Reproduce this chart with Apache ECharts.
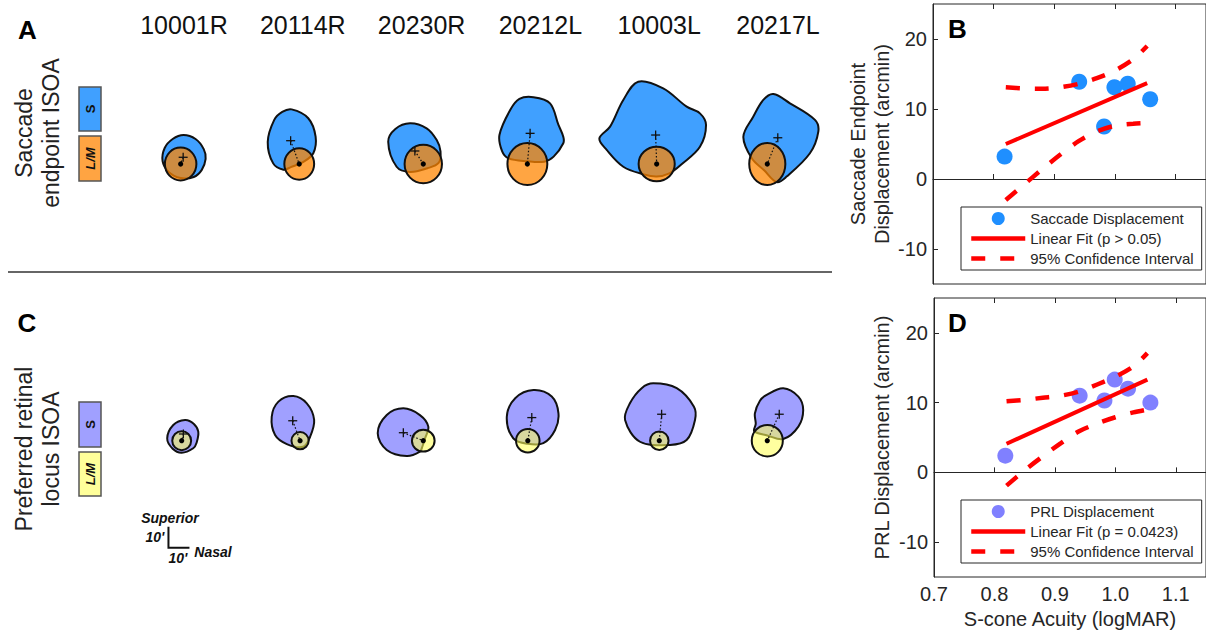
<!DOCTYPE html>
<html><head><meta charset="utf-8">
<script src="https://cdn.jsdelivr.net/npm/echarts@6/dist/echarts.min.js"></script>
<style>html,body{margin:0;padding:0;background:#fff}#c{width:1206px;height:634px}</style>
</head><body><div id="c"></div>
<script>
// ---------- data ----------
const subjects = ['10001R', '20114R', '20230R', '20212L', '10003L', '20217L'];

// Saccade endpoint ISOA (arcmin, x = nasal, y = superior), relative to L/M centroid
const saccadeLMx = [-1.6, -1.7, 0.8, -6.2, -1.2, -5.1];
const saccadeLMr = [[7.5, 7.8], [7.1, 7.5], [8.9, 9.2], [9.5, 10], [8.6, 8.2], [8.6, 10]];
const saccadeSCentroid = [[1.2, 3.2], [-4.1, 11.1], [-4, 6.2], [1.3, 14.6], [-0.5, 13.8], [5, 12.5]];
const saccadeSOutline = [
  [[1.4, 13.8], [7.1, 11.9], [11, 7.1], [11.9, 2.4], [10, -2.9], [6.2, -6.2], [0, -6.7], [-5.7, -3.8], [-8.6, 1.4], [-7.6, 7.6], [-3.8, 11.9]],
  [[-3.6, 26], [4.3, 21.8], [7.8, 13], [6.7, 5.1], [2, 1], [-4, -1.5], [-7.5, -2.7], [-12.4, 0.3], [-15, 10.5], [-11.9, 21], [-8.1, 24.8]],
  [[-6.3, 19.4], [1.6, 17], [6.4, 11.4], [8.2, 6], [7.3, 0.5], [2, -2], [-6.3, -3.8], [-12.7, -1.3], [-16.7, 10.6], [-13.3, 16.7]],
  [[2.9, 31.8], [10.8, 28.9], [14.8, 18.6], [17.1, 13], [17.1, 9.9], [12.5, 3.5], [8, 1.1], [0, 1.3], [-9, 2.7], [-12, 6], [-13.3, 13.8], [-8.2, 25.7], [-3.8, 31]],
  [[-8.8, 39.2], [3.1, 36], [14.3, 27.3], [20.6, 24.1], [23.5, 18.6], [20.6, 8.2], [12, 0], [6, -4.5], [0, -6], [-6, -5], [-15.9, -1.3], [-23.8, 6.7], [-27.3, 12.2], [-22.2, 17.8], [-15.9, 30.5]],
  [[2.9, 33.3], [10.8, 28.9], [22.7, 21], [24.3, 15.4], [20.3, 5.1], [9.2, -6], [4.5, -8.6], [-1.5, -3], [-7.4, 2.7], [-11.4, 13], [-6.7, 22.5], [-1.9, 30.5]]
];

// Preferred retinal locus ISOA
const prlLMx = [-1.1, -1.3, 0.8, -6.0, 0.05, -5.1];
const prlLMr = [[4.5, 4.5], [4.1, 4.1], [5.4, 5.2], [5.6, 5.6], [4.4, 4.4], [7.4, 7.5]];
const prlSCentroid = [[0.8, 3.2], [-3.5, 9.5], [-9.5, 3.8], [1.9, 11], [1.1, 12.6], [5.7, 12.6]];
const prlSOutline = [
  [[1.6, 9.9], [5.7, 8.1], [7.9, 4.3], [7.1, -1], [5.5, -3.6], [0, -5.7], [-4.3, -3.8], [-6.9, 1.1], [-4, 7.5]],
  [[-3.2, 21.3], [3.2, 17.8], [6.7, 9.9], [4.8, 1.9], [1.4, -2.9], [-6.3, -1.6], [-11.9, 2.7], [-13.5, 11.4], [-10.3, 18.6]],
  [[-9.5, 15.4], [-1.6, 12.2], [2.4, 6.7], [0.8, 1], [-0.5, -3], [-1.6, -5.2], [-7.9, -7.3], [-17.4, -4.4], [-21.7, 3.5], [-17.4, 12.2]],
  [[2.7, 24.1], [11.4, 21], [14.6, 13], [13, 5.1], [7.4, -1.2], [0, -1.5], [-6.9, 1.1], [-10, 11.4], [-6, 20.2]],
  [[-2.9, 27.3], [8.3, 25], [16.5, 16.2], [17, 9.9], [13, 0.3], [5.1, -2], [-9.2, -0.5], [-16.3, 9.9], [-14, 17.8], [-8.4, 25]],
  [[7.6, 25], [14.8, 21], [17.1, 14.6], [14.8, 6.7], [7.6, 0.8], [0, 2.5], [-6.2, 4.5], [-5.5, 8], [-5.9, 13], [-3.5, 19], [-0.3, 21.8]]
];

// scale bar (arcmin, relative to first column)
const scaleBarCorner = [-7.4, -51];
const scaleBarLen = 10;

// Panels B / D
const acuity = [0.818, 0.941, 0.982, 0.999, 1.021, 1.058];
const saccadeDisp = [3.2, 13.9, 7.5, 13.1, 13.6, 11.4];
const prlDisp = [2.4, 11.0, 10.3, 13.3, 12.0, 10.0];
const fitX = [0.82, 1.053];
const saccadeFit = [5.0, 13.7];
const prlFit = [4.1, 13.3];
const ciX = [0.82, 0.85, 0.88, 0.91, 0.94, 0.97, 1.0, 1.03, 1.053];
const saccadeCIUpper = [13.1, 12.95, 12.9, 13.1, 13.6, 14.4, 15.5, 17.1, 19.0];
const saccadeCILower = [-3.0, -0.8, 1.4, 3.5, 5.4, 6.8, 7.6, 7.9, 8.0];
const prlCIUpper = [10.2, 10.4, 10.7, 11.0, 11.6, 12.6, 13.7, 15.2, 17.1];
const prlCILower = [-1.9, 0.3, 2.3, 4.2, 5.9, 7.0, 7.9, 8.6, 9.0];
const yTicks = [-10, 0, 10, 20];
const xTicks = [0.7, 0.8, 0.9, 1.0, 1.1];

// ---------- chart ----------
const FONT = "'Liberation Sans', Arial, sans-serif";
const INK = '#262626';
const chart = echarts.init(document.getElementById('c'), null, {renderer: 'svg'});
const zip = (xs, ys) => xs.map((x, i) => [x, ys[i]]);

function shapeRenderer(lmX, lmR, outlines, centroids, sColor, lmColor) {
  return function (params, api) {
    const i = api.value(0);
    const c = api.coord([i, 0]);
    const k = api.size([0, 1])[1];
    const cx = c[0] + lmX[i] * k, cy = c[1];
    const P = p => [cx + p[0] * k, cy - p[1] * k];
    const cen = P(centroids[i]);
    const d = 4.5;
    return {
      type: 'group', children: [
        {type: 'polygon', shape: {points: outlines[i].map(P), smooth: 0.35}, style: {fill: sColor, stroke: '#111', lineWidth: 2}},
        {type: 'ellipse', shape: {cx: cx, cy: cy, rx: lmR[i][0] * k, ry: lmR[i][1] * k}, style: {fill: lmColor, stroke: '#111', lineWidth: 2}},
        {type: 'line', shape: {x1: cen[0], y1: cen[1], x2: cx, y2: cy}, style: {stroke: '#111', lineWidth: 1.2, lineDash: [1.5, 2]}},
        {type: 'line', shape: {x1: cen[0] - d, y1: cen[1], x2: cen[0] + d, y2: cen[1]}, style: {stroke: '#111', lineWidth: 1.3}},
        {type: 'line', shape: {x1: cen[0], y1: cen[1] - d, x2: cen[0], y2: cen[1] + d}, style: {stroke: '#111', lineWidth: 1.3}},
        {type: 'circle', shape: {cx: cx, cy: cy, r: 2.6}, style: {fill: '#000'}}
      ]
    };
  };
}

function scaleBarRenderer(params, api) {
  const c = api.coord([0, scaleBarCorner[1]]);
  const k = api.size([0, 1])[1];
  const x0 = c[0] + scaleBarCorner[0] * k, y0 = c[1];
  const L = scaleBarLen * k;
  const tf = 'italic bold 14px ' + FONT;
  const t = (x, y, s) => ({type: 'text', x: x, y: y, style: {text: s, font: tf, fill: '#111', align: 'center', verticalAlign: 'middle'}});
  return {
    type: 'group', children: [
      {type: 'polyline', shape: {points: [[x0, y0 - L], [x0, y0], [x0 + L, y0]]}, style: {stroke: '#111', lineWidth: 2, fill: null}},
      t(x0 + 1.5, y0 - L - 9, 'Superior'),
      t(x0 - 13.5, y0 - 11, "10'"),
      t(x0 + 9.5, y0 + 10, "10'"),
      t(x0 + 44.5, y0 + 4, 'Nasal')
    ]
  };
}

const valueXAxis = (grid, pos, labels, name) => ({
  type: 'value', gridIndex: grid, position: pos, min: 0.7, max: 1.15,
  axisLine: {show: pos === 'bottom', lineStyle: {color: INK, width: 1}},
  axisTick: {show: true, inside: true, length: 5, customValues: xTicks, lineStyle: {color: INK}},
  axisLabel: {show: labels, customValues: xTicks, formatter: v => v.toFixed(1), fontSize: 20, color: INK, fontFamily: FONT, margin: 7},
  splitLine: {show: false},
  name: name || '', nameLocation: 'middle', nameGap: 32,
  nameTextStyle: {fontSize: 20, color: INK, fontFamily: FONT}
});
const valueYAxis = (grid, name, gap) => ({
  type: 'value', gridIndex: grid, min: -15, max: 25,
  axisLine: {show: true, lineStyle: {color: INK, width: 1}},
  axisTick: {show: true, inside: true, length: 5, customValues: yTicks, lineStyle: {color: INK}},
  axisLabel: {customValues: yTicks, fontSize: 20, color: INK, fontFamily: FONT, margin: 6},
  splitLine: {show: false},
  name: name, nameLocation: 'middle', nameGap: gap, nameRotate: 90,
  nameTextStyle: {fontSize: 20, lineHeight: 24, color: INK, fontFamily: FONT}
});

const lineSeries = (name, xi, yi, data, dashed) => ({
  type: 'line', name: name, xAxisIndex: xi, yAxisIndex: yi, data: data, smooth: dashed ? 0.3 : false,
  symbol: 'none', showSymbol: false, silent: true,
  lineStyle: {color: '#ff0000', width: dashed ? 4.5 : 4, type: dashed ? [14, 15] : 'solid', cap: 'butt'},
  itemStyle: {color: '#ff0000'}
});

const legendBase = (top, names) => ({
  data: [
    {name: names[0], icon: 'circle', itemStyle: {opacity: 1}},
    {name: names[1], itemStyle: {opacity: 0}},
    {name: names[2], itemStyle: {opacity: 0}}
  ],
  orient: 'vertical', left: 961, top: top, padding: [4, 8, 4, 8], itemGap: 5,
  itemWidth: 54, itemHeight: 13, borderColor: INK, borderWidth: 1, backgroundColor: '#fff',
  lineStyle: {width: 4.5},
  selectedMode: false, textStyle: {fontSize: 15, color: INK, fontFamily: FONT}
});

const boxes = [
  {y: 87, h: 44, fill: '#40a0ff', text: 'S', font: 'bold 13px ' + FONT},
  {y: 136, h: 45, fill: '#ffa442', text: 'L/M', font: 'italic bold 13px ' + FONT},
  {y: 402, h: 45, fill: '#a0a0ff', text: 'S', font: 'bold 13px ' + FONT},
  {y: 452, h: 44, fill: '#ffff9a', text: 'L/M', font: 'italic bold 13px ' + FONT}
];
const graphics = [];
boxes.forEach(b => {
  graphics.push({type: 'rect', shape: {x: 79, y: b.y, width: 22, height: b.h}, style: {fill: b.fill, stroke: '#555', lineWidth: 1.5}});
  graphics.push({type: 'text', x: 90, y: b.y + b.h / 2, rotation: Math.PI / 2, style: {text: b.text, font: b.font, fill: '#111', align: 'center', verticalAlign: 'middle'}});
});
const panelLetter = (x, y, s) => ({type: 'text', x: x, y: y, style: {text: s, font: 'bold 26px ' + FONT, fill: '#000', align: 'center', verticalAlign: 'middle'}});
graphics.push(panelLetter(27.5, 30, 'A'), panelLetter(27, 323, 'C'), panelLetter(957.5, 29, 'B'), panelLetter(957.5, 323, 'D'));
graphics.push({type: 'text', x: 37, y: 133, rotation: Math.PI / 2, style: {text: 'Saccade\nendpoint ISOA', font: '23px ' + FONT, lineHeight: 27, fill: '#222', align: 'center', verticalAlign: 'middle'}});
graphics.push({type: 'text', x: 37, y: 449, rotation: Math.PI / 2, style: {text: 'Preferred retinal\nlocus ISOA', font: '23px ' + FONT, lineHeight: 27, fill: '#222', align: 'center', verticalAlign: 'middle'}});
graphics.push({type: 'line', shape: {x1: 8, y1: 272, x2: 832, y2: 272}, style: {stroke: '#333', lineWidth: 1.3}});

const option = {
  animation: false,
  backgroundColor: '#fff',
  textStyle: {fontFamily: FONT},
  grid: [
    {left: 124.6, width: 712.8, top: 59, height: 210},
    {left: 124.6, width: 712.8, top: 325.2, height: 231},
    {left: 933, top: 4, width: 280.5, height: 280, show: true, borderColor: INK, borderWidth: 1},
    {left: 934, top: 298, width: 280.5, height: 279, show: true, borderColor: INK, borderWidth: 1}
  ],
  xAxis: [
    {type: 'category', gridIndex: 0, data: subjects, position: 'top', boundaryGap: true,
      axisLine: {show: false}, axisTick: {show: false},
      axisLabel: {interval: 0, fontSize: 25, color: '#111', fontFamily: FONT, margin: 22}},
    {type: 'category', gridIndex: 1, data: subjects, boundaryGap: true, show: false},
    valueXAxis(2, 'bottom', false),
    valueXAxis(2, 'top', false),
    valueXAxis(3, 'bottom', true, 'S-cone Acuity (logMAR)'),
    valueXAxis(3, 'top', false)
  ],
  yAxis: [
    {type: 'value', gridIndex: 0, min: -50, max: 50, show: false},
    {type: 'value', gridIndex: 1, min: -55, max: 55, show: false},
    valueYAxis(2, 'Saccade Endpoint\nDisplacement (arcmin)', 36),
    valueYAxis(3, 'PRL Displacement (arcmin)', 40)
  ],
  legend: [
    legendBase(207, ['Saccade Displacement', 'Linear Fit (p > 0.05)', '95% Confidence Interval']),
    legendBase(500, ['PRL Displacement', 'Linear Fit (p = 0.0423)', '95% Confidence Interval'])
  ],
  graphic: graphics,
  series: [
    {type: 'custom', xAxisIndex: 0, yAxisIndex: 0, silent: true, data: subjects.map((s, i) => [i, 0]),
      renderItem: shapeRenderer(saccadeLMx, saccadeLMr, saccadeSOutline, saccadeSCentroid, '#40a0ff', 'rgba(255,133,0,0.74)')},
    {type: 'custom', xAxisIndex: 1, yAxisIndex: 1, silent: true, data: subjects.map((s, i) => [i, 0]),
      renderItem: shapeRenderer(prlLMx, prlLMr, prlSOutline, prlSCentroid, '#a0a0ff', 'rgba(255,255,90,0.58)')},
    {type: 'custom', xAxisIndex: 1, yAxisIndex: 1, silent: true, data: [[0, scaleBarCorner[1]]], renderItem: scaleBarRenderer},
    {type: 'scatter', name: 'Saccade Displacement', xAxisIndex: 2, yAxisIndex: 2, data: zip(acuity, saccadeDisp), symbolSize: 16, itemStyle: {color: '#1f8fff', opacity: 1}},
    lineSeries('Linear Fit (p > 0.05)', 2, 2, zip(fitX, saccadeFit), false),
    lineSeries('95% Confidence Interval', 2, 2, zip(ciX, saccadeCIUpper), true),
    lineSeries('95% Confidence Interval', 2, 2, zip(ciX, saccadeCILower), true),
    {type: 'scatter', name: 'PRL Displacement', xAxisIndex: 4, yAxisIndex: 3, data: zip(acuity, prlDisp), symbolSize: 16, itemStyle: {color: '#8080ff', opacity: 1}},
    lineSeries('Linear Fit (p = 0.0423)', 4, 3, zip(fitX, prlFit), false),
    lineSeries('95% Confidence Interval', 4, 3, zip(ciX, prlCIUpper), true),
    lineSeries('95% Confidence Interval', 4, 3, zip(ciX, prlCILower), true)
  ]
};
chart.setOption(option);
</script></body></html>
